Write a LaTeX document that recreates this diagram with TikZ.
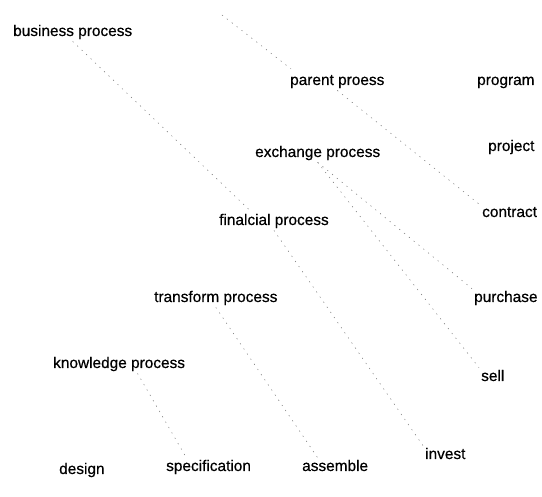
\documentclass[tikz,border=0pt]{standalone}
\usepackage{fontspec}
\setmainfont{Liberation Sans}
\newfontfamily\termfont{Liberation Sans}[FakeBold=0.5]
\usepackage{tikz}
\usetikzlibrary{calc}

\begin{document}
\begin{tikzpicture}[x=1pt, y=-1pt,
    term/.style={anchor=base west, inner sep=2pt, font=\termfont\fontsize{15.4}{18}\selectfont},
    link/.style={black!55, line width=0.5pt, dash pattern=on 1.2pt off 5pt}]
  \useasboundingbox (0,0) rectangle (542,497);
  % process names, left column
  \node[term] (bp) at (11, 36) {business process};
  \node[term] (parent) at (288, 85) {parent proess};
  \node[term] (exchange) at (253, 157) {exchange process};
  \node[term] (finalcial) at (217, 225) {finalcial process};
  \node[term] (transform) at (152, 302) {transform process};
  \node[term] (knowledge) at (51, 368) {knowledge process};
  % leaves
  \node[term] (program) at (475, 85) {program};
  \node[term] (project) at (486, 151) {project};
  \node[term] (contract) at (480, 217) {contract};
  \node[term] (purchase) at (472, 302) {purchase};
  \node[term] (sell) at (479, 381) {sell};
  \node[term] (invest) at (423, 459) {invest};
  \node[term] (design) at (57, 474) {design};
  \node[term] (specification) at (164, 471) {specification};
  \node[term] (assemble) at (300, 471) {assemble};
  % dotted links
  \coordinate (top) at (222, 15);
  \draw[link] (top) -- ([xshift=3pt, yshift=4pt]parent.north west);
  \draw[link] (bp.south) -- ($(finalcial.north west)!0.3!(finalcial.north east)$);
  \draw[link] (parent.south) -- (contract.north west);
  \draw[link] (exchange.south) -- (purchase.north west);
  \draw[link] (exchange.south) -- (sell.north west);
  \draw[link] (finalcial.south) -- (invest.north west);
  \draw[link] (transform.south) -- ($(assemble.north west)!0.5!(assemble.north)$);
  \draw[link] ($(knowledge.south)!0.27!(knowledge.south east)$) -- ($(specification.north west)!0.5!(specification.north)$);
\end{tikzpicture}
\end{document}
